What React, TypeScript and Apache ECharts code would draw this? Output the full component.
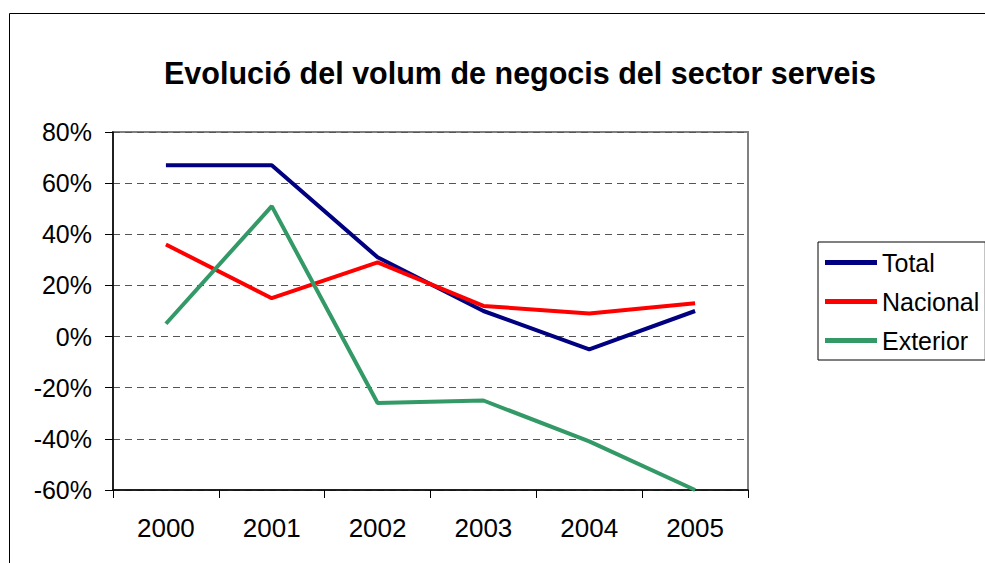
import React, { useEffect, useRef } from "react";
import * as echarts from "echarts";

const categories = ["2000", "2001", "2002", "2003", "2004", "2005"];
const totalValues = [67, 67, 31, 10, -5, 10];
const nacionalValues = [36, 15, 29, 12, 9, 13];
const exteriorValues = [5, 51, -26, -25, -41, -60];
const titleText = "Evolució del volum de negocis del sector serveis";

const FONT = "'Liberation Sans', Arial, Helvetica, sans-serif";

export default function App() {
  const ref = useRef<HTMLDivElement>(null);
  useEffect(() => {
    document.body.style.margin = "0";
    const chart = echarts.init(ref.current!, null, { renderer: "svg" });
    const mk = (name: string, data: number[], color: string) => ({
      name,
      type: "line",
      data,
      symbol: "none",
      lineStyle: { color, width: 4 },
      itemStyle: { color },
    });
    chart.setOption({
      animation: false,
      backgroundColor: "#ffffff",
      textStyle: { fontFamily: FONT },
      title: {
        text: titleText,
        left: 515,
        textAlign: "center",
        top: 52,
        textStyle: { fontFamily: FONT, fontSize: 30.5, fontWeight: "bold", color: "#000" },
      },
      graphic: [
        {
          type: "rect",
          shape: { x: 9.5, y: 13.5, width: 1100, height: 700 },
          style: { fill: "none", stroke: "#000", lineWidth: 1 },
          z: -10,
          silent: true,
        },
      ],
      legend: {
        orient: "vertical",
        left: 818,
        top: 242,
        padding: [8, 6, 7, 7],
        itemGap: 14,
        itemWidth: 52,
        itemHeight: 5,
        icon: "rect",
        borderColor: "#000",
        borderWidth: 1,
        backgroundColor: "#fff",
        textStyle: { fontFamily: FONT, fontSize: 25, color: "#000", padding: [0, 0, 0, 0] },
        data: ["Total", "Nacional", "Exterior"],
      },
      grid: {
        left: 113,
        top: 132,
        right: 237,
        bottom: 73,
        show: true,
        borderColor: "#808080",
        borderWidth: 2,
        backgroundColor: "#fff",
      },
      xAxis: {
        type: "category",
        data: categories,
        boundaryGap: true,
        axisLine: { onZero: false, lineStyle: { color: "#000", width: 1.5 } },
        axisTick: { show: true, length: 8, interval: 0, lineStyle: { color: "#000" } },
        axisLabel: { fontFamily: FONT, fontSize: 26, color: "#000", margin: 25, interval: 0 },
        splitLine: { show: false },
      },
      yAxis: {
        type: "value",
        min: -60,
        max: 80,
        interval: 20,
        axisLine: { show: true, onZero: false, lineStyle: { color: "#000", width: 1.5 } },
        axisTick: { show: true, length: 8, lineStyle: { color: "#000" } },
        axisLabel: { fontFamily: FONT, fontSize: 25, color: "#000", margin: 21, formatter: "{value}%" },
        splitLine: { show: true, lineStyle: { color: "#555", type: [7, 5], width: 1 } },
      },
      series: [
        mk("Total", totalValues, "#000080"),
        mk("Nacional", nacionalValues, "#ff0000"),
        mk("Exterior", exteriorValues, "#339966"),
      ],
    });
    return () => chart.dispose();
  }, []);
  return (
    <div
      ref={ref}
      style={{ position: "fixed", left: 0, top: 0, width: 985, height: 563 }}
    />
  );
}
